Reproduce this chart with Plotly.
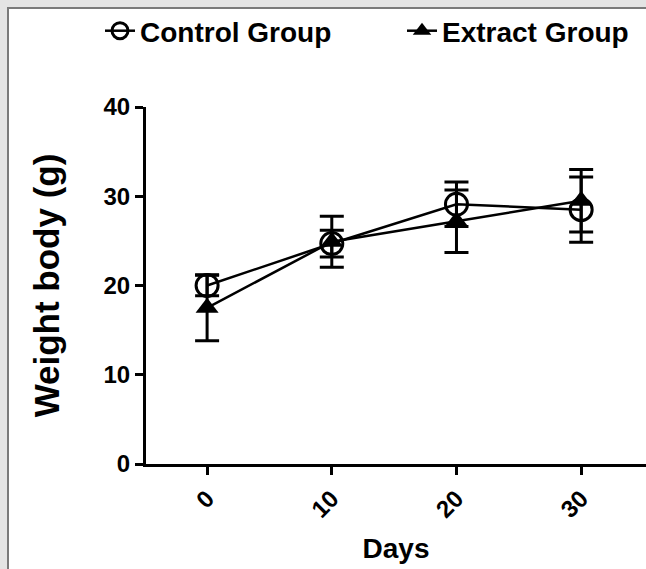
import plotly.graph_objects as go

days = [0, 10, 20, 30]
control_mean = [20.0, 24.7, 29.1, 28.5]
control_sem = [1.15, 1.5, 2.5, 3.65]
extract_mean = [17.5, 24.9, 27.2, 29.5]
extract_sem = [3.7, 2.85, 3.5, 3.5]
y_ticks = [0, 10, 20, 30, 40]
x_ticks = [0, 10, 20, 30]

FONT = "Arial, 'Liberation Sans', sans-serif"

fig = go.Figure()
fig.add_trace(go.Scatter(
    x=days, y=control_mean, name="Control Group", mode="lines+markers",
    line=dict(color="black", width=2.5), legend="legend",
    marker=dict(symbol="circle-open", size=22, color="black", line=dict(width=3, color="black")),
    error_y=dict(type="data", array=control_sem, visible=True, color="black", thickness=3, width=12),
))
fig.add_trace(go.Scatter(
    x=days, y=extract_mean, name="Extract Group", mode="lines+markers",
    line=dict(color="black", width=2.5), legend="legend2",
    marker=dict(symbol="triangle-up", size=20, color="black"),
    error_y=dict(type="data", array=extract_sem, visible=True, color="black", thickness=3, width=12),
))

L, T, B = 146, 107, 105
W, H = 646, 569
pw, ph = W - L, H - T - B

def px2x(px):
    return (px - L) / pw

def py2y(py):
    return (H - B - py) / ph

fig.add_shape(type="rect", xref="paper", yref="paper",
              x0=px2x(8), x1=px2x(700), y0=py2y(620), y1=py2y(8),
              fillcolor="white", line=dict(color="#7a7a7a", width=2), layer="below")

leg_common = dict(orientation="h", xanchor="left", yanchor="middle",
                  font=dict(size=28, weight="bold", family=FONT), bgcolor="rgba(0,0,0,0)")

fig.update_layout(
    width=W, height=H,
    margin=dict(l=L, r=0, t=T, b=B),
    paper_bgcolor="#e4e4e4", plot_bgcolor="rgba(0,0,0,0)",
    font=dict(family=FONT, color="black"),
    showlegend=True,
    legend=dict(x=px2x(100), y=py2y(31), **leg_common),
    legend2=dict(x=px2x(402), y=py2y(31), **leg_common),
    xaxis=dict(range=[-4.9, 35.2], tickvals=x_ticks, ticktext=[str(v) for v in x_ticks], tickangle=-45,
               showgrid=False, zeroline=False, showline=True, linecolor="black", linewidth=3,
               ticks="outside", ticklen=8, tickwidth=3, tickcolor="black",
               tickfont=dict(size=24, weight="bold", family=FONT),
               title=dict(text="Days", font=dict(size=28, weight="bold", family=FONT), standoff=17)),
    yaxis=dict(range=[0, 40], tickvals=y_ticks, showgrid=False, zeroline=False, showline=True,
               linecolor="black", linewidth=3, ticks="outside", ticklen=8, tickwidth=3, tickcolor="black",
               tickfont=dict(size=24, weight="bold", family=FONT),
               title=dict(text="Weight body (g)", font=dict(size=35, weight="bold", family=FONT), standoff=34)),
)

fig.write_html("out.html", config={"displayModeBar": False},
               post_script="document.body.style.margin='0';document.body.style.overflow='hidden';")
